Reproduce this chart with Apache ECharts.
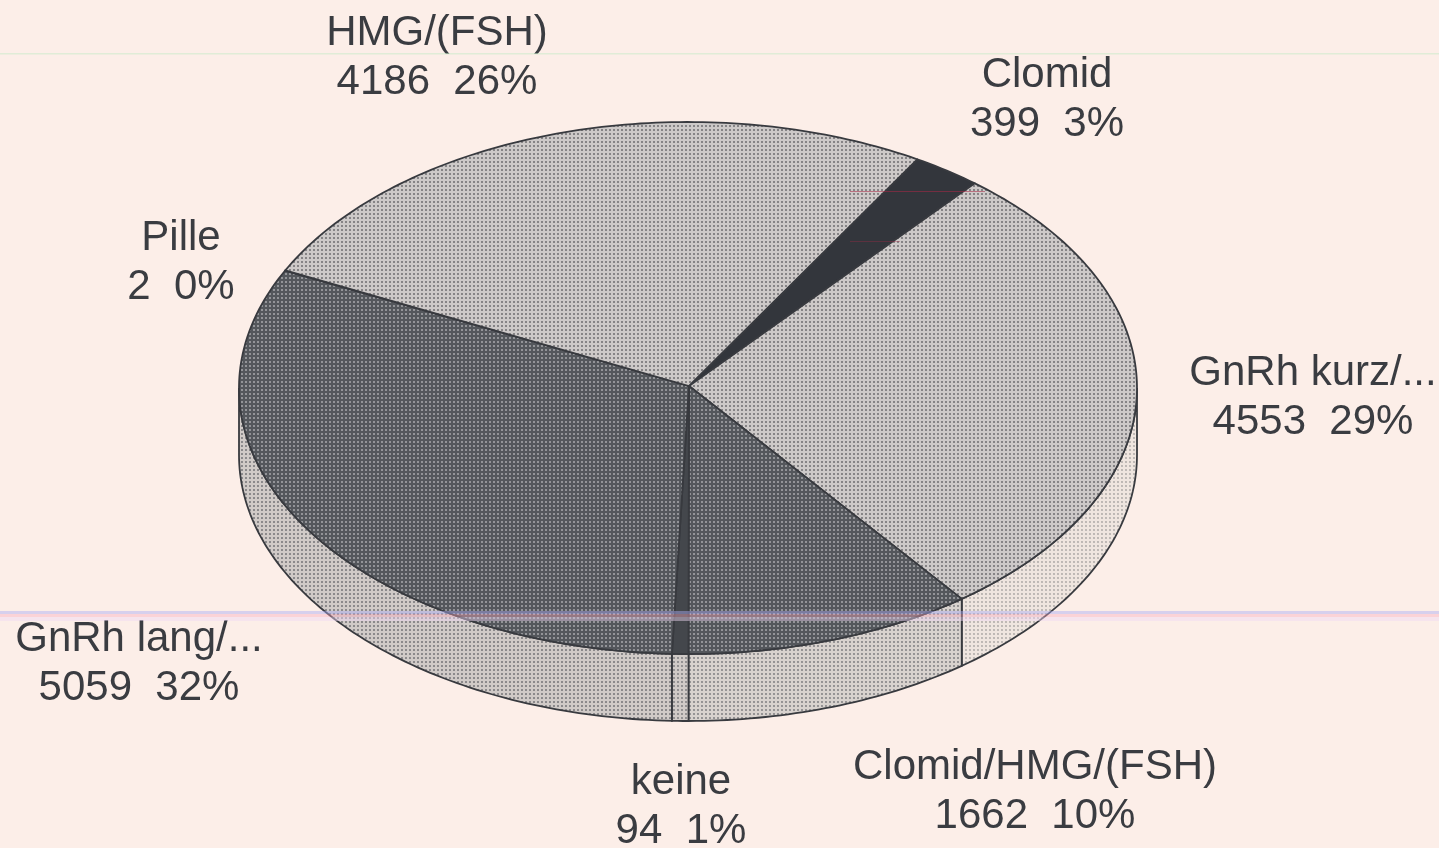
<!DOCTYPE html>
<html><head><meta charset="utf-8">
<style>html,body{margin:0;padding:0;background:#fceee8}#c{width:1439px;height:848px}</style>
<script src="https://cdn.jsdelivr.net/npm/echarts@6/dist/echarts.min.js"></script>
</head><body><div id="c"></div>
<script>
const categories = ['Clomid','GnRh kurz/...','Clomid/HMG/(FSH)','keine','GnRh lang/...','Pille','HMG/(FSH)'];
const values = [399,4553,1662,94,5059,2,4186];
const percents = ['3%','29%','10%','1%','32%','0%','26%'];

const labelAnchors = [[1047,75],[1313,373],[1035,767],[681,782],[139,639],[181,238],[437,33]];
const CX=688, CY=388, RX=449, RY=266, DEPTH=67, START=30.7, APEX=[689,386];

function dither(base, dot, dotSize){
  const c=document.createElement('canvas');c.width=c.height=4;
  const g=c.getContext('2d');g.fillStyle=base;g.fillRect(0,0,4,4);
  g.fillStyle=dot;g.beginPath();g.arc(2,2,dotSize,0,Math.PI*2);g.fill();
  return {image:c,repeat:'repeat'};
}
const topFill = [
  '#33363c',
  dither('#cdc9c8','#6e6d70',1.0),
  dither('#54575c','#a8a8ac',1.0),
  '#44474c',
  dither('#54575c','#a8a8ac',1.0),
  '#44474c',
  dither('#cdc9c8','#6e6d70',1.0)
];
const wallFill = [
  null,
  dither('#efe5df','#a8a3a1',0.9),
  dither('#d8d2ce','#77777a',0.9),
  dither('#d0cac7','#77777a',0.9),
  dither('#d0cac7','#6e6e72',0.95),
  null,null
];
const total = values.reduce((a,b)=>a+b,0);
const cum=[];values.reduce((s,v,i)=>(cum[i]=s,s+v),0);
const pt=(deg,dy)=>{const r=deg*Math.PI/180;return [CX+RX*Math.sin(r),CY-RY*Math.cos(r)+(dy||0)];};
const INK='#383a3f';

const series={
  type:'custom',coordinateSystem:'none',silent:true,
  data:values.map((v,i)=>({name:categories[i],value:v})),
  renderItem:(params,api)=>{
    const i=params.dataIndex, val=api.value(0);
    const a0=START+cum[i]/total*360, a1=a0+val/total*360;
    const children=[];
    const w0=Math.max(a0,90), w1=Math.min(a1,270);
    if(w1>w0 && wallFill[i]){
      const pts=[];const n=Math.max(2,Math.ceil((w1-w0)));
      for(let k=0;k<=n;k++)pts.push(pt(w0+(w1-w0)*k/n,0));
      for(let k=n;k>=0;k--)pts.push(pt(w0+(w1-w0)*k/n,DEPTH));
      children.push({type:'polygon',shape:{points:pts},style:{fill:wallFill[i],stroke:INK,lineWidth:1.8}});
    }
    const pts=[APEX];const n=Math.max(1,Math.ceil((a1-a0)));
    for(let k=0;k<=n;k++)pts.push(pt(a0+(a1-a0)*k/n,0));
    children.push({type:'polygon',shape:{points:pts},style:{fill:topFill[i],stroke:INK,lineWidth:1.8,lineJoin:'round'}});
    const [lx,ly]=labelAnchors[i];
    children.push({type:'text',z2:10,style:{text:categories[i]+'\n'+val+'  '+percents[i],x:lx,y:ly+25,align:'center',verticalAlign:'middle',
      font:'42px "Liberation Sans", Arial, sans-serif',lineHeight:49.5,fill:'#3a3c41'}});
    return {type:'group',children};
  }
};
const band=(x,y,w,h,color)=>({type:'rect',shape:{x:x,y:y,width:w,height:h},style:{fill:color},z:50,silent:true});
const chart=echarts.init(document.getElementById('c'),null,{renderer:'canvas'});
chart.setOption({
  animation:false,backgroundColor:'#fceee8',
  series:[series],
  graphic:[
    band(0,53,1439,1.5,'rgba(200,235,200,0.55)'),
    band(0,611,1439,3,'rgba(170,170,245,0.45)'),
    band(0,614,1439,3,'rgba(250,170,190,0.40)'),
    band(0,617,1439,4,'rgba(240,215,245,0.45)'),
    band(850,191,135,1,'rgba(170,40,70,0.55)'),
    band(850,241,50,1,'rgba(170,40,70,0.35)')
  ]
});
</script></body></html>
